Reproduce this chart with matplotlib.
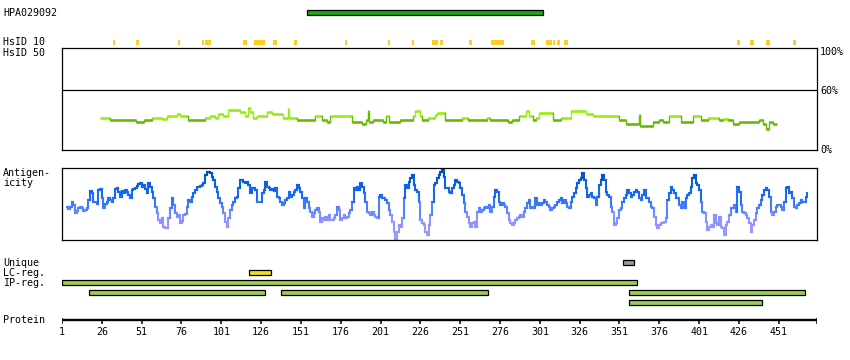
import numpy as np
import matplotlib
matplotlib.use('Agg')
import matplotlib.pyplot as plt
from matplotlib.collections import LineCollection
from matplotlib.colors import LinearSegmentedColormap

W, H = 850, 360
protein_len = 475
antibody = 'HPA029092'
antigen_start, antigen_end = 155, 303

# HsID 10 hits (residue ranges)
hsid10_start = [33, 47.5, 73.9, 89, 90.9, 114.8, 121.7, 133.6, 146.8, 178.9, 205.9, 221, 233.6,
                238, 256.8, 270.6, 295.2, 304.6, 309, 312, 315.9, 424.6, 432.8, 442.9, 459.8]
hsid10_end = [34.3, 49.2, 75.2, 90, 94.5, 117.3, 128.6, 136, 148.5, 180.1, 207.2, 222.2, 237.3,
              240.3, 258.7, 278.2, 297.7, 308.4, 310.2, 313.4, 318.4, 426.5, 435.3, 445.4, 461.7]

# HsID 50 identity (%), step segments starting at hs_start
hs_start = [24.9, 31.2, 47.5, 52.5, 57.6, 63.9, 67, 73.3, 75.2, 80.2, 90.9, 94, 97, 99, 102.2,
            105.3, 112.9, 116, 117.9, 119.2, 121, 123.6, 129.9, 133, 139.9, 143, 143.7, 148.7,
            160, 164.4, 167.6, 169.4, 183.3, 189.6, 192.1, 193.3, 194, 196.5, 202.8, 204.2, 206,
            213.4, 221.6, 222.9, 226, 227.3, 231, 235.4, 236.7, 241.7, 252.4, 256.2, 268.1, 270,
            280.7, 283.8, 287.6, 292, 294, 296.4, 298.3, 300.2, 309, 314, 320.3, 329.7, 334.1,
            350.5, 354.9, 363.1, 363.7, 371.9, 375.7, 378.2, 382, 389.6, 397.2, 402.2, 406.7,
            413.3, 415.8, 419, 422.1, 425.9, 438.5, 441, 442.9, 444.7, 447.3]
hs_val = [32, 30, 28, 30, 32, 31, 34, 36, 34, 30, 32, 34, 32, 36, 34, 40, 38, 34, 42, 38, 32, 34,
          38.6, 36, 32, 41, 32, 30, 34, 30, 28, 34, 28, 26, 30, 39, 28, 30, 28, 34, 28, 30, 34,
          39, 34, 30, 32, 35, 37, 30, 32, 30, 32, 30, 28, 30, 34, 39, 34, 30, 32, 37, 30, 32, 39,
          36.3, 34, 30, 26, 35, 24, 28, 30, 28, 34, 28, 34, 30, 32, 30, 31, 30, 26, 28, 30, 26,
          21, 28, 26]
hs_end = 449.7

# antigenicity, sampled evenly from residue 3.9 to 469
ag_first, ag_last = 3.9, 469.0
ag_score = [
    33, 31, 33, 38, 35, 27, 29, 32, 33, 32, 29, 30, 32, 40, 49, 47, 38, 38, 36, 50,
    51, 42, 32, 36, 38, 42, 40, 38, 42, 51, 52, 48, 43, 49, 47, 50, 48, 45, 42, 50,
    51, 52, 54, 56, 57, 53, 55, 51, 47, 57, 53, 48, 42, 33, 27, 20, 17, 22, 13, 12,
    12, 22, 32, 42, 35, 27, 23, 25, 17, 19, 25, 26, 33, 40, 38, 43, 47, 50, 53, 53,
    54, 55, 57, 65, 68, 68, 67, 63, 60, 53, 48, 42, 37, 33, 27, 18, 13, 22, 30, 35,
    38, 42, 43, 52, 60, 60, 58, 57, 58, 55, 47, 52, 52, 50,
    38, 38, 38, 47, 50, 58, 53, 52, 50, 51, 49, 52, 43, 42, 38, 35, 37, 40, 42, 48,
    43, 45, 48, 50, 55, 52, 48, 42, 32, 42, 38, 32, 28, 23, 27, 30, 32, 28, 18, 22,
    20, 23, 20, 25, 20, 20, 22, 25, 33, 30, 20, 22, 25, 22, 23, 27, 30, 38, 52, 50,
    53, 50, 57, 53, 47, 38, 28, 27, 25, 28, 25, 23, 22, 43, 45, 42, 42, 40, 37, 30,
    25, 18, 8, 0, 8, 15, 13, 22, 42, 55, 52, 58, 62, 65, 55, 50, 48, 38, 20, 17,
    15, 8, 5, 15, 25, 38, 55, 57, 62, 65, 68, 71, 63, 52,
    52, 48, 47, 52, 55, 60, 58, 57, 52, 45, 37, 28, 23, 17, 13, 17, 18, 13, 28, 32,
    28, 30, 32, 33, 32, 35, 28, 33, 43, 50, 48, 38, 35, 37, 35, 33, 27, 20, 17, 15,
    17, 20, 22, 23, 25, 23, 28, 32, 37, 40, 32, 33, 32, 42, 35, 37, 35, 37, 40, 38,
    35, 33, 30, 32, 33, 35, 38, 40, 42, 37, 40, 37, 33, 32, 38, 43, 47, 52, 57, 60,
    62, 67, 60, 52, 43, 45, 47, 43, 42, 35, 43, 55, 60, 65, 60, 48, 45, 43, 33, 28,
    15, 17, 22, 30, 32, 38, 42, 45, 50, 47, 43, 45, 48,
    50, 48, 42, 40, 45, 50, 42, 42, 38, 33, 32, 23, 15, 12, 15, 17, 17, 18, 22, 40,
    47, 53, 50, 47, 42, 42, 35, 32, 38, 32, 42, 45, 47, 53, 62, 65, 57, 55, 50, 38,
    28, 27, 18, 10, 13, 15, 13, 25, 17, 15, 23, 13, 12, 5, 15, 18, 25, 32, 32, 35,
    28, 53, 48, 35, 28, 27, 25, 22, 17, 8, 15, 20, 27, 32, 35, 40, 45, 50, 52, 50,
    43, 28, 25, 28, 33, 35, 35, 33, 30, 38, 52, 53, 47, 48, 42, 33, 32, 35, 37, 40,
    38, 38, 43, 47]

unique_reg = (353.2, 360.4)
lc_reg = (118.7, 131.9)
ip_start = [1.2, 18.2, 138.8, 356.9, 356.9]
ip_end = [362, 128.4, 268.3, 467.2, 440.2]
ip_lane = [0, 1, 1, 1, 2]

tick_pos = list(range(1, 452, 25))

FONT = dict(family='DejaVu Sans Mono', size=7.2, color='black')

fig = plt.figure(figsize=(W / 100, H / 100), dpi=100)


def px_axes(left, top, right, bottom):
    return fig.add_axes([left / W, 1 - bottom / H, (right - left) / W, (bottom - top) / H])


def label(x, y, s, ha='left'):
    fig.text(x / W, 1 - y / H, s, ha=ha, va='center', **FONT)


# top strip: antibody bar and HsID 10
ax_top = px_axes(62, 0, 817, 48)
ax_top.set_xlim(1, protein_len)
ax_top.set_ylim(48, 0)
ax_top.axis('off')
ax_top.barh(12.3, antigen_end - antigen_start, left=antigen_start, height=4.7,
            color='#22a416', edgecolor='black', linewidth=0.9)
ax_top.barh([42.3] * len(hsid10_start), np.subtract(hsid10_end, hsid10_start),
            left=hsid10_start, height=4.7, color='#ffcc22', linewidth=0)

# HsID 50 panel
ax_hs = px_axes(62, 48.3, 817, 150.3)
ax_hs.set_xlim(1, protein_len)
ax_hs.set_ylim(0, 102)
ax_hs.set_xticks([])
ax_hs.set_yticks([])
ax_hs.axhline(60, color='black', lw=0.9)
ends = hs_start[1:] + [hs_end]
for i, (s, e, v) in enumerate(zip(hs_start, ends, hs_val)):
    c = '#99ee11' if v >= 31 else '#66bb00'
    ax_hs.plot([s, e], [v, v], color=c, lw=1.9, solid_capstyle='butt')
    if i + 1 < len(hs_val):
        nv = hs_val[i + 1]
        c2 = '#99ee11' if min(v, nv) >= 31 else '#66bb00'
        ax_hs.plot([e, e], [v, nv], color=c2, lw=1.0)

# antigenicity panel, drawn as steps coloured by score
ax_ag = px_axes(62, 168.3, 817, 240)
ax_ag.set_xlim(1, protein_len)
ax_ag.set_ylim(0, 71.7)
ax_ag.set_xticks([])
ax_ag.set_yticks([])
ag_x = np.linspace(ag_first, ag_last, len(ag_score))
ag_y = np.array(ag_score, dtype=float)
segs, vals = [], []
for i in range(len(ag_x) - 1):
    segs.append([(ag_x[i], ag_y[i]), (ag_x[i + 1], ag_y[i])])
    vals.append(ag_y[i])
    segs.append([(ag_x[i + 1], ag_y[i]), (ag_x[i + 1], ag_y[i + 1])])
    vals.append((ag_y[i] + ag_y[i + 1]) / 2)
cmap = LinearSegmentedColormap.from_list('ag', [(0, '#a29cff'), (0.3, '#8c92ff'),
                                                (0.45, '#4f80ff'), (0.6, '#1a6cf8'),
                                                (0.8, '#0a60e0'), (1, '#004a9e')])
lc = LineCollection(segs, cmap=cmap, linewidths=1.5, capstyle='projecting')
lc.set_array(np.array(vals))
lc.set_clim(0, 72)
ax_ag.add_collection(lc)

for ax in (ax_hs, ax_ag):
    for sp in ax.spines.values():
        sp.set_linewidth(0.9)

# features and protein axis
ax_ft = px_axes(62, 250, 817, 345)
ax_ft.set_xlim(1, protein_len)
ax_ft.set_ylim(345, 250)
ax_ft.axis('off')
bar_kw = dict(height=4.7, edgecolor='black', linewidth=0.9)
ax_ft.barh(262.3, unique_reg[1] - unique_reg[0], left=unique_reg[0], color='#999999', **bar_kw)
ax_ft.barh(272.3, lc_reg[1] - lc_reg[0], left=lc_reg[0], color='#eedd22', **bar_kw)
for s, e, lane in zip(ip_start, ip_end, ip_lane):
    ax_ft.barh(282.3 + 10 * lane, e - s, left=s, color='#9dcb5a', **bar_kw)

ax_ft.plot([1, protein_len], [319.5, 319.5], color='black', lw=1.7, solid_capstyle='butt')
ax_ft.vlines(tick_pos[1:], 319.5, 323.5, color='black', lw=1.1)
ax_ft.vlines([1, protein_len], 318, 323.5, color='black', lw=1.1)
for t in tick_pos:
    ax_ft.text(t, 331.7, str(t), ha='center', va='center', **FONT)

# row labels
label(3, 12.5, antibody)
label(3, 42.3, 'HsID 10')
label(3, 52.5, 'HsID 50')
label(820, 52.3, '100%')
label(820, 90.5, '60%')
label(820, 150, '0%')
label(3, 173.3, 'Antigen-')
label(3, 182.8, 'icity')
label(3, 262.7, 'Unique')
label(3, 272.7, 'LC-reg.')
label(3, 282.7, 'IP-reg.')
label(3, 320, 'Protein')

fig.savefig('out.png', dpi=100)
